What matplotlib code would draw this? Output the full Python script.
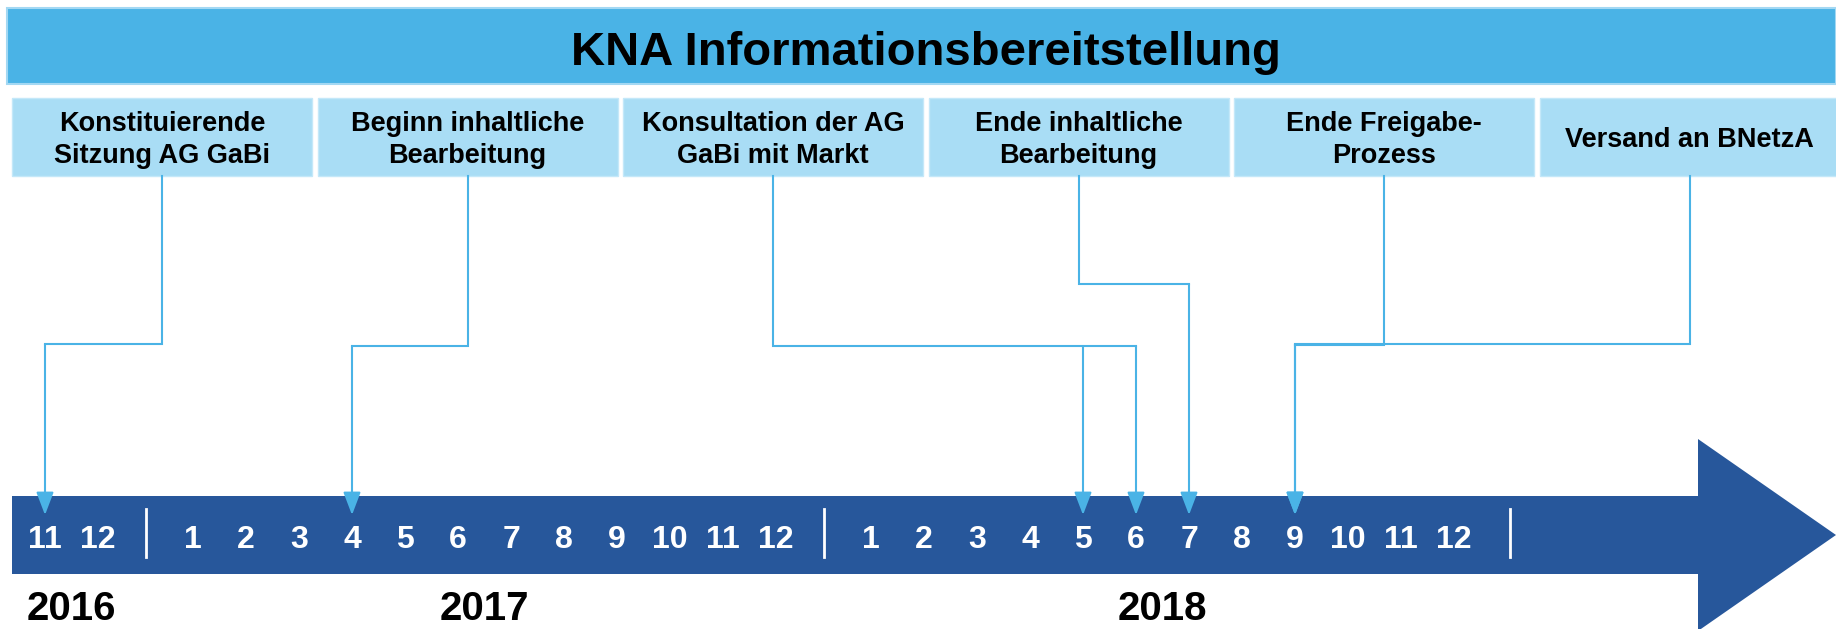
import matplotlib
matplotlib.use('Agg')
import matplotlib.pyplot as plt
from matplotlib.patches import Rectangle, FancyArrow

# Data
TITLE      = 'KNA Informationsbereitstellung'
MILESTONES = ['Konstituierende\nSitzung AG GaBi', 'Beginn inhaltliche\nBearbeitung',
              'Konsultation der AG\nGaBi mit Markt', 'Ende inhaltliche\nBearbeitung',
              'Ende Freigabe-\nProzess', 'Versand an BNetzA']
# (year, month) each milestone points at
TARGETS    = [[(2016, 11)], [(2017, 4)], [(2018, 5), (2018, 6)],
              [(2018, 7)], [(2018, 9)], [(2018, 9)]]
YEARS      = [2016, 2017, 2018]
MONTHS     = [[11, 12],
              [1, 2, 3, 4, 5, 6, 7, 8, 9, 10, 11, 12],
              [1, 2, 3, 4, 5, 6, 7, 8, 9, 10, 11, 12]]

# Layout (pixel canvas, y grows downward)
W, H        = 1836, 629
TITLE_BOX   = (7, 8, 1829, 76)
BOX_X0, BOX_W, BOX_STEP = 12, 300, 305.5
BOX_Y, BOX_H = 98, 78
ELBOW_Y     = [344, 346, 346, 284, 345, 344]
BAR_X0, BAR_YC, BAR_H = 12, 535, 78
HEAD_W, HEAD_L = 192, 138
TIP_Y       = 515
X0, STEP, YEAR_GAP = 45, 53, 42   # month scale

C_TITLE = '#4ab3e6'
C_BOX   = '#a9ddf5'
C_BAR   = '#27579b'
C_LINE  = '#4ab3e6'

plt.rcParams['font.family'] = ['Liberation Sans', 'DejaVu Sans']

fig = plt.figure(figsize=(W / 100, H / 100), dpi=100)
ax = fig.add_axes([0, 0, 1, 1])
ax.set_xlim(0, W)
ax.set_ylim(H, 0)
ax.axis('off')

# month -> x position on the timeline
first_year = YEARS[0]
def month_x(year, month):
    yi = YEARS.index(year)
    m = (year - first_year) * 12 + month - MONTHS[0][0]
    return X0 + STEP * m + YEAR_GAP * yi

# title bar
ax.add_patch(Rectangle(TITLE_BOX[:2], TITLE_BOX[2], TITLE_BOX[3], facecolor=C_TITLE,
                       edgecolor='#a3d8f3', lw=1.5))
ax.text(TITLE_BOX[0] + TITLE_BOX[2] / 2 + 4, 65, TITLE,
        ha='center', va='baseline', fontsize=34, fontweight='bold', color='black')

# timeline arrow
ax.add_patch(FancyArrow(BAR_X0, BAR_YC, W - BAR_X0, 0, width=BAR_H, head_width=HEAD_W,
                        head_length=HEAD_L, length_includes_head=True,
                        facecolor=C_BAR, edgecolor='none'))

for yi, (year, months) in enumerate(zip(YEARS, MONTHS)):
    xs = [month_x(year, m) for m in months]
    for m, x in zip(months, xs):
        ax.text(x, 548, str(m), ha='center', va='baseline', fontsize=23,
                fontweight='bold', color='white')
    # separator after the year
    sx = xs[-1] + (STEP + YEAR_GAP) / 2 + (8 if yi == len(YEARS) - 1 else 0)
    ax.plot([sx, sx], [509, 557], color='white', lw=2)
    ax.text((xs[0] + xs[-1]) / 2, 620, str(year), ha='center', va='baseline',
            fontsize=29, fontweight='bold', color='black')

# milestone boxes and connectors
for i, (label, targets) in enumerate(zip(MILESTONES, TARGETS)):
    bx = BOX_X0 + i * BOX_STEP
    ax.add_patch(Rectangle((bx, BOX_Y), BOX_W, BOX_H, facecolor=C_BOX,
                           edgecolor='#c4e8f9', lw=1))
    cx = bx + BOX_W / 2
    ax.text(cx, BOX_Y + BOX_H / 2 + 3, label, ha='center', va='center', fontsize=19.5,
            fontweight='bold', color='black', linespacing=1.3)

    txs = [month_x(y, m) for y, m in targets]
    ey = ELBOW_Y[i]
    far = max(txs, key=lambda t: abs(t - cx))
    ax.plot([cx, cx, far], [BOX_Y + BOX_H, ey, ey], color=C_LINE, lw=1.5,
            solid_joinstyle='miter')
    for tx in txs:
        ax.annotate('', xy=(tx, TIP_Y), xytext=(tx, ey),
                    arrowprops=dict(arrowstyle='-|>,head_length=1.0,head_width=0.38',
                                    color=C_LINE, lw=1.5, mutation_scale=14,
                                    shrinkA=0, shrinkB=0))

fig.savefig('out.png', dpi=100)
